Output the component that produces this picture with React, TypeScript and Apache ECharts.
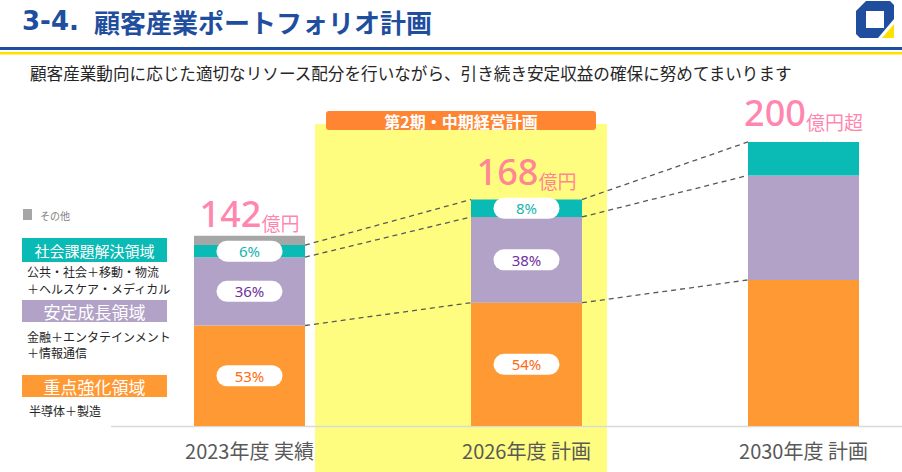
import React, { useEffect, useRef } from "react";
import * as echarts from "echarts";

const categories = ["2023年度 実績", "2026年度 計画", "2030年度 計画"];
const focusValues = [75, 92, 109]; // 重点強化領域
const stableValues = [51, 64, 78]; // 安定成長領域
const socialValues = [9, 13, 25]; // 社会課題解決領域
const otherValues = [7, 0, 0]; // その他
const focusPct = ["53%", "54%", ""];
const stablePct = ["36%", "38%", ""];
const socialPct = ["6%", "8%", ""];
const totalNumbers = ["142", "168", "200"];
const totalUnits = ["億円", "億円", "億円超"];

const JP = '"Noto Sans CJK JP", "Noto Sans", sans-serif';
const NUM = '"Noto Sans", "Noto Sans CJK JP", sans-serif';

const GRID_LEFT = 249.5;
const GRID_W = 554;
const GRID_TOP = 91;
const GRID_H = 335;
const BAR_W = 111;
const TOTAL_GAPS = [4, 10, 11];

const ORANGE = "#FF9933";
const PURPLE = "#B3A2C7";
const TEAL = "#0ABAB5";
const GRAY = "#A6A6A6";

export default function App() {
  const ref = useRef<HTMLDivElement>(null);

  useEffect(() => {
    if (!ref.current) return;
    const chart = echarts.init(ref.current, undefined, { renderer: "svg" });

    const barSeries = (
      name: string,
      values: number[],
      color: string,
      pct: string[] | null,
      pctColor: string
    ) => ({
      type: "bar",
      name,
      stack: "total",
      barWidth: BAR_W,
      xAxisIndex: 0,
      yAxisIndex: 0,
      silent: true,
      itemStyle: { color },
      data: values.map((v, i) => ({
        value: v,
        label: { show: !!pct && pct[i] !== "" },
      })),
      label: {
        show: !!pct,
        position: "inside",
        formatter: (p: any) => (pct ? pct[p.dataIndex] : ""),
        color: pctColor,
        backgroundColor: "#ffffff",
        borderRadius: 11,
        width: 66,
        height: 21,
        lineHeight: 21,
        align: "center",
        fontSize: 15,
        fontWeight: "normal",
        fontFamily: NUM,
      },
    });

    const totals = focusValues.map(
      (v, i) => v + stableValues[i] + socialValues[i] + otherValues[i]
    );
    const lvlFocus = focusValues;
    const lvlStable = focusValues.map((v, i) => v + stableValues[i]);
    const lvlSocial = focusValues.map(
      (v, i) => v + stableValues[i] + socialValues[i]
    );
    const half = BAR_W / 2 / (GRID_W / (categories.length - 1));
    const dashSeries: any[] = [];
    [lvlFocus, lvlStable, lvlSocial].forEach((lvl) => {
      for (let i = 0; i < categories.length - 1; i++) {
        dashSeries.push({
          type: "line",
          xAxisIndex: 1,
          yAxisIndex: 0,
          symbol: "none",
          silent: true,
          lineStyle: { color: "#595959", width: 1.3, type: [5, 4] },
          data: [
            [i + half, lvl[i]],
            [i + 1 - half, lvl[i + 1]],
          ],
        });
      }
    });

    const txt = (
      text: string,
      x: number,
      y: number,
      size: number,
      fill: string,
      opts: any = {}
    ) => ({
      type: "text",
      x,
      y,
      silent: true,
      z: opts.z ?? 5,
      style: {
        text,
        fill,
        fontSize: size,
        fontFamily: opts.family ?? JP,
        fontWeight: opts.weight ?? "normal",
        align: opts.align ?? "left",
        verticalAlign: "middle",
      },
    });

    const box = (x: number, y: number, w: number, h: number, fill: string, z = 1, r = 0) => ({
      type: "rect",
      silent: true,
      z,
      shape: { x, y, width: w, height: h, r },
      style: { fill },
    });

    const option: any = {
      animation: false,
      backgroundColor: "#ffffff",
      grid: { left: GRID_LEFT, top: GRID_TOP, width: GRID_W, height: GRID_H },
      xAxis: [
        {
          type: "category",
          data: categories,
          boundaryGap: false,
          axisLine: { show: false },
          axisTick: { show: false },
          axisLabel: {
            color: "#595959",
            fontSize: 20,
            fontFamily: JP,
            margin: 14,
          },
        },
        { type: "value", min: 0, max: categories.length - 1, show: false },
      ],
      yAxis: { type: "value", min: 0, max: 250, show: false },
      series: [
        barSeries("重点強化領域", focusValues, ORANGE, focusPct, "#FF6A13"),
        barSeries("安定成長領域", stableValues, PURPLE, stablePct, "#7030A0"),
        barSeries("社会課題解決領域", socialValues, TEAL, socialPct, "#17B5AE"),
        barSeries("その他", otherValues, GRAY, null, "#000"),
        {
          type: "scatter",
          xAxisIndex: 0,
          yAxisIndex: 0,
          symbolSize: 0,
          silent: true,
          z: 6,
          data: totals.map((t, i) => ({
            value: [i, t],
            label: { distance: TOTAL_GAPS[i] },
          })),
          label: {
            show: true,
            position: "top",
            formatter: (p: any) =>
              `{n|${totalNumbers[p.dataIndex]}}{u|${totalUnits[p.dataIndex]}}`,
            rich: {
              n: {
                fontSize: 36,
                fontWeight: 500,
                color: "#FF6699",
                fontFamily: NUM,
                lineHeight: 40,
                verticalAlign: "bottom",
              },
              u: {
                fontSize: 19,
                color: "#FF6699",
                fontFamily: JP,
                lineHeight: 32,
                verticalAlign: "bottom",
              },
            },
          },
        },
        ...dashSeries,
      ],
      graphic: [
        // yellow band for mid-term plan
        { ...box(315, 124, 292, 348, "#FFFD7F", -10), z: -10 },
        box(326, 111, 270, 19, "#FF8533", 3, 3),
        txt("第2期・中期経営計画", 461, 121, 16, "#ffffff", {
          align: "center",
          weight: "bold",
        }),
        // baseline
        {
          type: "line",
          silent: true,
          z: 1,
          shape: { x1: 111, y1: 426.5, x2: 902, y2: 426.5 },
          style: { stroke: "#D9D9D9", lineWidth: 1.5 },
        },
        // title
        txt("3-4.", 22, 21, 26, "#1F4E9E", { weight: "bold", family: '"DejaVu Sans", sans-serif' }),
        txt("顧客産業ポートフォリオ計画", 94, 21, 26, "#1F4E9E", { weight: "bold" }),
        box(0, 47, 902, 3, "#1F4E9E"),
        box(0, 52, 902, 2.5, "#FFE100"),
        txt(
          "顧客産業動向に応じた適切なリソース配分を行いながら、引き続き安定収益の確保に努めてまいります",
          30,
          73,
          16.6,
          "#262626"
        ),
        // logo
        {
          type: "polygon",
          silent: true,
          shape: {
            points: [
              [866, 1],
              [890, 1],
              [894, 5],
              [894, 19],
              [878, 38],
              [860, 38],
              [856, 34],
              [856, 11],
            ],
          },
          style: { fill: "#1F4E9E" },
        },
        box(866, 11, 18, 17, "#ffffff", 2),
        {
          type: "polygon",
          silent: true,
          shape: {
            points: [
              [894, 24],
              [894, 38],
              [882, 38],
            ],
          },
          style: { fill: "#FFE100" },
        },
        // legend
        box(23, 209, 9, 11, GRAY),
        txt("その他", 40, 215, 10, "#7F7F7F"),
        box(22, 238, 145, 24, TEAL),
        txt("社会課題解決領域", 94.5, 250, 15, "#ffffff", { align: "center" }),
        txt("公共・社会＋移動・物流", 27, 271, 12, "#262626"),
        txt("＋ヘルスケア・メディカル", 27, 288, 12, "#262626"),
        box(22, 300, 145, 22, PURPLE),
        txt("安定成長領域", 94.5, 311, 17, "#ffffff", { align: "center" }),
        txt("金融＋エンタテインメント", 27, 336, 12, "#262626"),
        txt("＋情報通信", 27, 352, 12, "#262626"),
        box(22, 375, 145, 22, ORANGE),
        txt("重点強化領域", 94.5, 386, 17, "#ffffff", { align: "center" }),
        txt("半導体＋製造", 29, 410, 12, "#262626"),
      ],
    };

    chart.setOption(option);
    return () => chart.dispose();
  }, []);

  return (
    <div
      ref={ref}
      style={{ position: "absolute", left: 0, top: 0, width: 902, height: 472 }}
    />
  );
}
